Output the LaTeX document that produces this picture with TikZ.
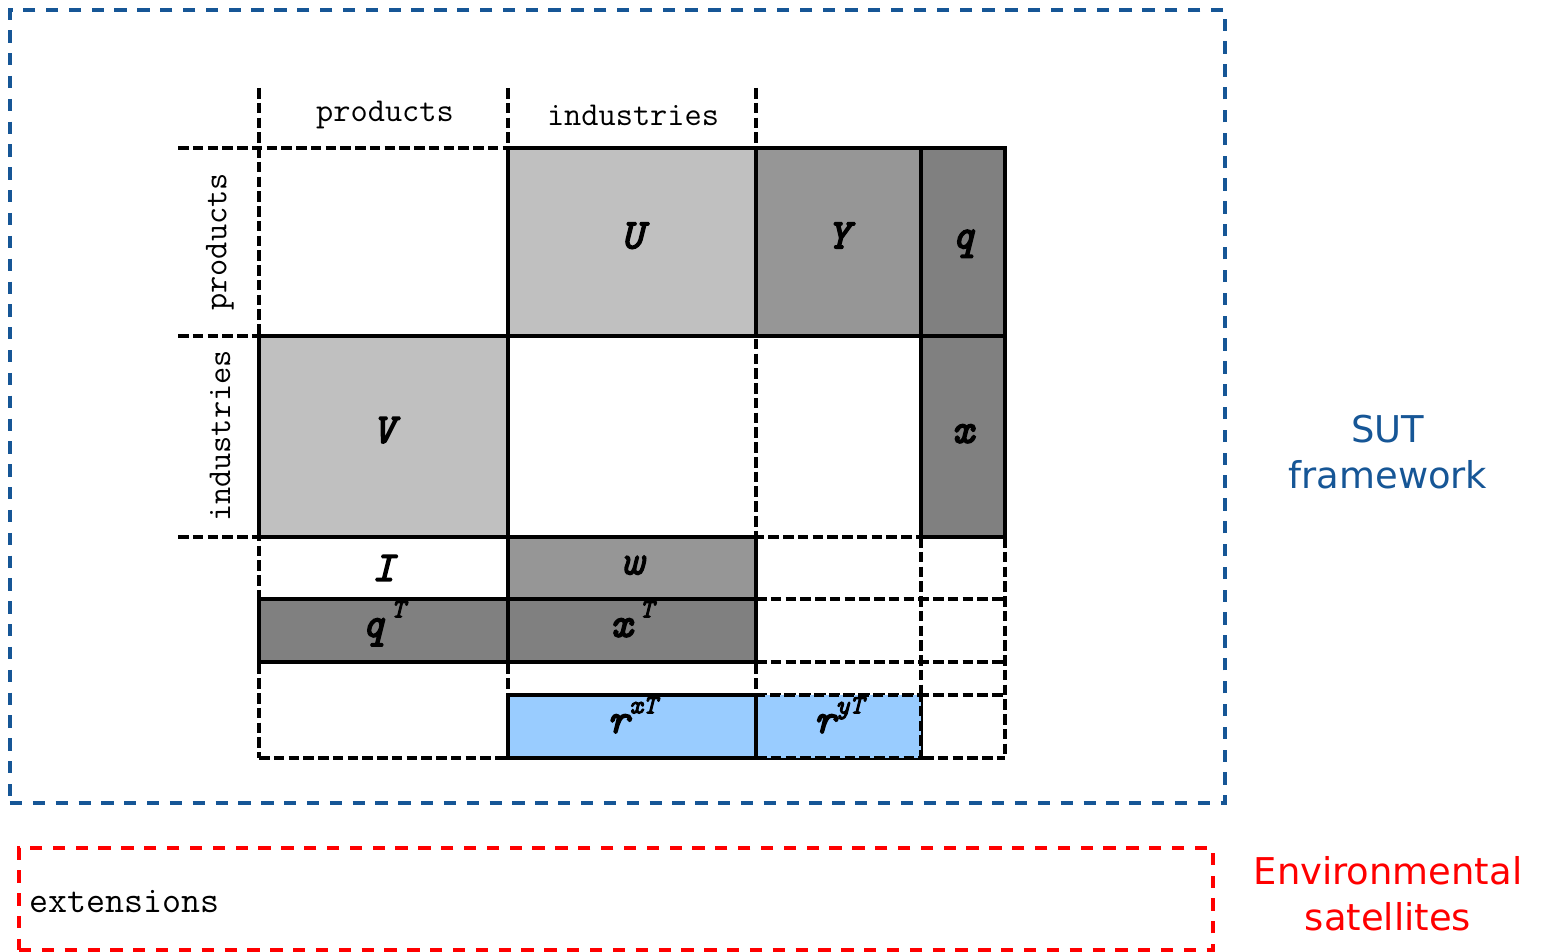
\documentclass[tikz,border=0pt]{standalone}
\usepackage{fontspec}
\newfontfamily\verdfont{DejaVu Sans}
\newfontfamily\labfont{lmmono10-italic.otf}[FakeBold=3.5]
\definecolor{sutblue}{RGB}{22,86,150}
\definecolor{envred}{RGB}{255,0,0}
\definecolor{shadeA}{HTML}{C0C0C0}
\definecolor{shadeB}{HTML}{969696}
\definecolor{shadeC}{HTML}{808080}
\definecolor{extblue}{HTML}{99CCFF}
\newcommand\matlab{\fontsize{24}{28}\selectfont\labfont}
\newcommand\hdrfont{\fontsize{19}{22}\selectfont\ttfamily}
% raised transpose-style superscript
\newcommand\upidx[1]{\raisebox{0.46em}{\fontsize{15}{18}\selectfont #1}}
% a block of the table between two corners, in pixel units
\newcommand\cellnode[7]{%
  \pgfmathsetmacro\cw{(#4-#2)*0.02}%
  \pgfmathsetmacro\ch{(#5-#3)*0.02}%
  \node[cellbox,#6,minimum width=\cw cm,minimum height=\ch cm]
    (#1) at ({(#2+#4)/2},{(#3+#5)/2}) {#7};}
\begin{document}
\begin{tikzpicture}[x=0.02cm,y=-0.02cm,
  gridline/.style={line width=2.2pt, dash pattern=on 6pt off 2.4pt},
  cellbox/.style={draw=black, line width=2.2pt, inner sep=0pt, font=\matlab,
                  text height=0.72em, text depth=0pt},
  hdr/.style={inner sep=0pt, font=\hdrfont},
  framebox/.style={line width=2pt, dash pattern=on 7pt off 6pt, inner sep=0pt},
  caption/.style={align=center, font=\fontsize{21}{26}\selectfont\verdfont}]
\useasboundingbox (0,0) rectangle (1541,952);

% outer frames
\cellnode{sut}{10}{10}{1225}{803}{framebox, draw=sutblue}{}
\cellnode{env}{19}{848}{1213}{950}{framebox, draw=envred}{}

% dashed grid of the table
\draw[gridline] (259,88) -- (259,758);
\draw[gridline] (508,88) -- (508,758);
\draw[gridline] (756,88) -- (756,758);
\draw[gridline] (921,537) -- (921,758);
\draw[gridline] (1005,537) -- (1005,758);
\draw[gridline] (178,148) -- (508,148);
\draw[gridline] (178,336) -- (259,336);
\draw[gridline] (178,537) -- (1005,537);
\draw[gridline] (756,599) -- (1005,599);
\draw[gridline] (756,662) -- (1005,662);
\draw[gridline] (756,695) -- (1005,695);
\draw[gridline] (259,758) -- (1005,758);

% final-demand extension row (dashed border)
\cellnode{ryT}{756}{695}{921}{758}{gridline, fill=extblue}{r\upidx{yT}}

% filled blocks
\cellnode{U}{508}{148}{756}{336}{fill=shadeA}{U}
\cellnode{Y}{756}{148}{921}{336}{fill=shadeB}{Y}
\cellnode{q}{921}{148}{1005}{336}{fill=shadeC}{q}
\cellnode{x}{921}{336}{1005}{537}{fill=shadeC}{x}
\cellnode{V}{259}{336}{508}{537}{fill=shadeA}{V}
\cellnode{w}{508}{537}{756}{599}{fill=shadeB}{w}
\cellnode{qT}{259}{599}{508}{662}{fill=shadeC}{q\,\upidx{T}}
\cellnode{xT}{508}{599}{756}{662}{fill=shadeC}{x\,\upidx{T}}
\cellnode{rxT}{508}{695}{756}{758}{fill=extblue}{r\upidx{xT}}
\node[inner sep=0pt, font=\matlab] (I) at (383.5,568) {I};

% headers
\node[hdr] (hprod) at (385,115) {products};
\node[hdr] (hind) at (633,115) {industries};
\node[hdr, rotate=90] (vprod) at (220,242) {products};
\node[hdr, rotate=90] (vind) at (220,436) {industries};
\node[hdr, font=\fontsize{21}{24}\selectfont\ttfamily, anchor=west] (ext) at (29,902) {extensions};

% captions
\node[caption, text=sutblue] (sutlab) at (1388,452) {SUT\\framework};
\node[caption, text=envred] (envlab) at (1388,894) {Environmental\\satellites};
\end{tikzpicture}
\end{document}
